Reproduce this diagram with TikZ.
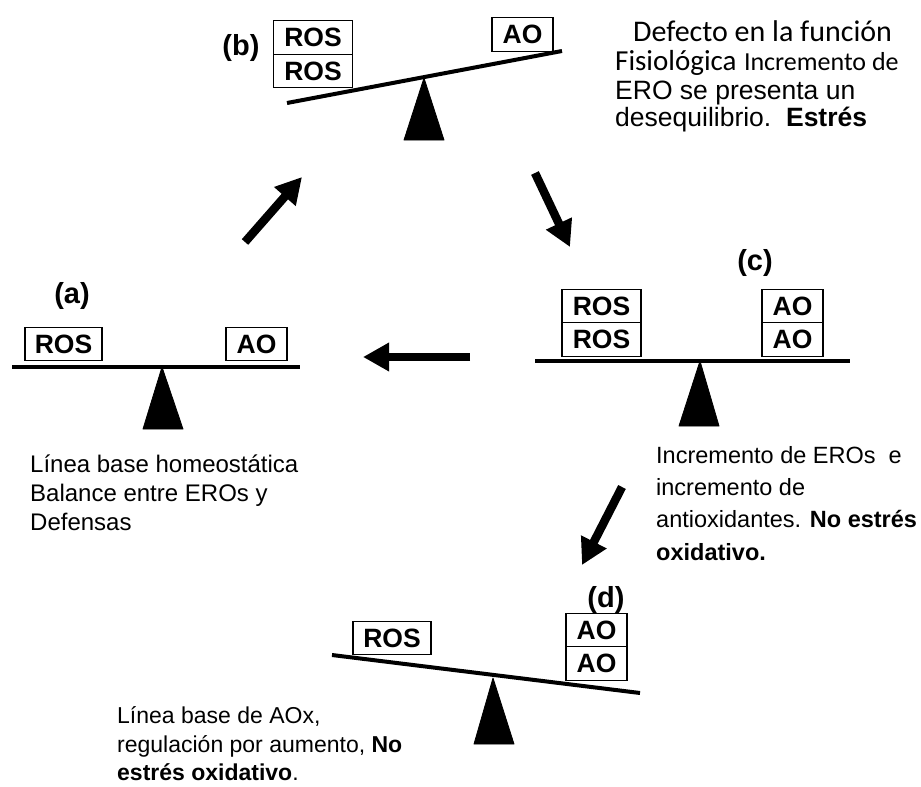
\documentclass[tikz,border=0pt]{standalone}
\usepackage{fontspec}
\setmainfont{Liberation Sans}
\newfontfamily\calfont{Carlito}
\usetikzlibrary{arrows.meta}
\begin{document}
\begin{tikzpicture}[x=1pt,y=-1pt,
  box/.style={draw, line width=1.3pt, inner sep=0pt, minimum height=33.5pt,
    font=\bfseries\fontsize{26.5}{26.5}\selectfont},
  rosbox/.style={box, minimum width=79pt},
  aobox/.style={box, minimum width=61pt},
  beam/.style={line width=4pt},
  fulcrum/.style={fill=black, draw=black, line width=0.8pt, line join=round},
  bigarrow/.style={line width=8.5pt, -{Triangle[length=26pt,width=27pt]}},
  tag/.style={font=\bfseries\fontsize{29}{29}\selectfont, inner sep=0pt},
  txt/.style={anchor=base west, inner sep=0pt, font=\fontsize{23}{23}\selectfont},
  txtl/.style={anchor=base west, inner sep=0pt, font=\fontsize{24}{24}\selectfont},
  txtm/.style={anchor=base west, inner sep=0pt, font=\fontsize{23.5}{23.5}\selectfont},
  txtt/.style={anchor=base west, inner sep=0pt, font=\fontsize{26.5}{26.5}\selectfont},
]
\useasboundingbox (0,0) rectangle (921,787);

% ---------- (a) ----------
\node[tag] (la) at (72,296) {(a)};
\node[rosbox, minimum width=77pt] (a-ros) at (63.5,344) {ROS};
\node[aobox] (a-ao) at (256.5,344) {AO};
\coordinate (a-l) at (12,367);
\coordinate (a-r) at (300,367);
\draw[beam] (a-l) -- (a-r);
\coordinate (a-top) at (162,367);
\coordinate (a-bl) at (143,429);
\coordinate (a-br) at (183,429);
\draw[fulcrum] (a-top) -- (a-bl) -- (a-br) -- cycle;

% ---------- (b) ----------
\node[tag] (lb) at (241,48) {(b)};
\node[rosbox] (b-ros1) at (313,37.5) {ROS};
\node[rosbox] (b-ros2) at (313,71) {ROS};
\node[aobox] (b-ao) at (522.5,34.5) {AO};
\coordinate (b-l) at (287,103);
\coordinate (b-r) at (562,51);
\draw[beam] (b-l) -- (b-r);
\coordinate (b-top) at (424,78);
\coordinate (b-bl) at (404,140);
\coordinate (b-br) at (444,140);
\draw[fulcrum] (b-top) -- (b-bl) -- (b-br) -- cycle;

% ---------- (c) ----------
\node[tag] (lc) at (755,263) {(c)};
\node[rosbox] (c-ros1) at (601.5,306) {ROS};
\node[rosbox] (c-ros2) at (601.5,339.5) {ROS};
\node[aobox] (c-ao1) at (792.5,306) {AO};
\node[aobox] (c-ao2) at (792.5,339.5) {AO};
\coordinate (c-l) at (535,361);
\coordinate (c-r) at (850,361);
\draw[beam] (c-l) -- (c-r);
\coordinate (c-top) at (700,361);
\coordinate (c-bl) at (679,426);
\coordinate (c-br) at (719,426);
\draw[fulcrum] (c-top) -- (c-bl) -- (c-br) -- cycle;

% ---------- (d) ----------
\node[tag] (ld) at (606,600) {(d)};
\node[rosbox, minimum width=78pt] (d-ros) at (392,638) {ROS};
\node[aobox] (d-ao1) at (596.5,630) {AO};
\node[aobox] (d-ao2) at (596.5,663.5) {AO};
\coordinate (d-l) at (332,655);
\coordinate (d-r) at (640,693);
\draw[beam] (d-l) -- (d-r);
\coordinate (d-top) at (493,678);
\coordinate (d-bl) at (474,744);
\coordinate (d-br) at (514,744);
\draw[fulcrum] (d-top) -- (d-bl) -- (d-br) -- cycle;

% ---------- arrows ----------
\coordinate (ar1s) at (245,242);
\coordinate (ar1e) at (302,177);
\coordinate (ar2s) at (535,173);
\coordinate (ar2e) at (570,247);
\coordinate (ar3s) at (470,357);
\coordinate (ar3e) at (363,357);
\coordinate (ar4s) at (622,487);
\coordinate (ar4e) at (582,565);
\draw[bigarrow] (ar1s) -- (ar1e);
\draw[bigarrow] (ar2s) -- (ar2e);
\draw[bigarrow] (ar3s) -- (ar3e);
\draw[bigarrow] (ar4s) -- (ar4e);

% ---------- texts ----------
\node[txtt, font=\calfont\fontsize{30}{30}\selectfont] (tb1) at (633,41) {Defecto en la función};
\node[txtt] (tb2) at (615,70) {{\calfont\fontsize{29}{29}\selectfont Fisiológica} {\calfont\fontsize{26}{26}\selectfont Incremento de}};
\node[txtt] (tb3) at (615,99) {ERO se presenta un};
\node[txtt] (tb4) at (615,126) {desequilibrio.\ \ \textbf{Estrés}};

\node[txtl] (ta1) at (30,472) {Línea base homeostática};
\node[txtl] (ta2) at (30,501) {Balance entre EROs y};
\node[txtl] (ta3) at (30,530) {Defensas};

\node[txtm] (tc1) at (656,463) {Incremento de EROs\ \ e};
\node[txtm] (tc2) at (656,495) {incremento de};
\node[txtm] (tc3) at (656,527) {antioxidantes. \textbf{No estrés}};
\node[txtm] (tc4) at (656,560) {\textbf{oxidativo.}};

\node[txt] (td1) at (117,723) {Línea base de AOx,};
\node[txt] (td2) at (117,752) {regulación por aumento, \textbf{No}};
\node[txt] (td3) at (117,780) {\textbf{estrés oxidativo}.};
\end{tikzpicture}
\end{document}
